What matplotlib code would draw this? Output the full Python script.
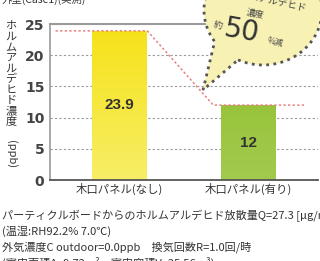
import numpy as np
import matplotlib
matplotlib.use("Agg")
import matplotlib.pyplot as plt
from matplotlib.patches import Polygon

plt.rcParams['font.family'] = ['Noto Sans CJK JP', 'DejaVu Sans']

# data
categories = ["木口パネル(なし)", "木口パネル(有り)"]
values = [23.9, 12]
bar_colors = ["#f7e21a", "#98c43c"]
bar_colors_bottom = ["#f6ee66", "#a2ca4e"]
y_ticks = [0, 5, 10, 15, 20, 25]
trend_x = [-0.49, 0.22, 0.73, 1.44]
trend_y = [values[0], values[0], values[1], values[1]]

ylabel_jp = "ホルムアルデヒド濃度"
notes = [
    "パーティクルボードからのホルムアルデヒド放散量Q=27.3 [μg/m²h]",
    "(温湿:RH92.2% 7.0℃)",
    "外気濃度C outdoor=0.0ppb　換気回数R=1.0回/時",
    "(室内面積A=9.72m²、室内容積V=25.56m³)",
]

fig = plt.figure(figsize=(3.2, 2.61), dpi=100)
fig.patch.set_facecolor("white")
ax = fig.add_axes([50 / 320, 1 - 180 / 261, 268 / 320, 156 / 261])

x = np.arange(len(categories))
bars = ax.bar(x, values, width=0.42, color=bar_colors, zorder=2)

# vertical gradient inside each bar
for b, ctop, cbot in zip(bars, bar_colors, bar_colors_bottom):
    grad = np.linspace(0, 1, 64).reshape(-1, 1)
    c1 = np.array(matplotlib.colors.to_rgb(cbot))
    c2 = np.array(matplotlib.colors.to_rgb(ctop))
    img = c1 + (c2 - c1) * grad[..., None]
    x0, y0 = b.get_x(), b.get_y()
    im = ax.imshow(img, extent=[x0, x0 + b.get_width(), y0, y0 + b.get_height()],
                   origin="lower", aspect="auto", zorder=2.5)
    im.set_clip_path(b)

for xi, v in zip(x, values):
    ax.text(xi, v * 0.5, f"{v:g}", ha="center", va="center",
            fontsize=11, fontweight="bold", color="#333333", zorder=4,
            family="Liberation Sans")

ax.plot(trend_x, trend_y, color="#e88080", linestyle=(0, (1.5, 1.5)), linewidth=1.1, zorder=3)

ax.set_xlim(-0.533, 1.54)
ax.set_ylim(0, 25)
ax.set_yticks(y_ticks)
ax.set_yticklabels([str(t) for t in y_ticks], fontsize=10, fontweight="bold",
                   color="#444444", family="DejaVu Sans")
ax.set_xticks(x)
ax.set_xticklabels(categories, fontsize=8.2, color="#333333")
ax.tick_params(length=0, pad=2)
ax.tick_params(axis="y", pad=4)
for t in y_ticks[1:-1]:
    ax.axhline(t, color="#999999", linestyle=(0, (2, 2)), linewidth=0.8, zorder=1)
ax.spines["right"].set_visible(False)
ax.spines["top"].set_color("#9a9a9a")
ax.spines["top"].set_linewidth(1.5)
ax.spines["left"].set_color("#9a9a9a")
ax.spines["left"].set_linewidth(1.2)
ax.spines["bottom"].set_color("#555555")
ax.spines["bottom"].set_linewidth(1.3)

# overlay in pixel coordinates for labels, bubble and notes
ov = fig.add_axes([0, 0, 1, 1], facecolor="none")
ov.set_xlim(0, 320)
ov.set_ylim(261, 0)
ov.axis("off")

# vertical y label
yy = 26
for ch in ylabel_jp:
    ov.text(11, yy, ch, ha="center", va="center", fontsize=8, color="#333333")
    yy += 10.6
ov.text(11, yy + 22, "(ppb)", ha="center", va="center", rotation=-90,
        fontsize=8, color="#333333")

# speech bubble
cx, cy, ra, rb = 263, 10, 59, 55
t = np.radians(np.linspace(115, -215, 200))
pts = np.column_stack([cx + ra * np.cos(t), cy + rb * np.sin(t)])
pts = np.vstack([pts, [203, 90]])
ov.add_patch(Polygon(pts, closed=True, facecolor="#f7f1b4", edgecolor="#555555",
                     linestyle=(0, (1, 1.6)), linewidth=2.0, zorder=5))
ov.text(268, 0, "ホルムアルデヒド", ha="center", va="center", fontsize=7,
        color="#444444", rotation=-12, zorder=6)
ov.text(255, 13, "濃度", ha="center", va="center", fontsize=6.5,
        color="#444444", rotation=-12, zorder=6)
ov.text(218, 25, "約", ha="center", va="center", fontsize=6.5,
        color="#444444", rotation=-12, zorder=6)
ov.text(242, 31, "50", ha="center", va="center", fontsize=20,
        color="#333333", rotation=-10, zorder=6, family="DejaVu Sans")
ov.text(275, 42, "%減", ha="center", va="center", fontsize=6,
        color="#444444", rotation=-12, zorder=6)

# cut-off heading
ov.text(2, -1, "外壁(Case1)(実測)", ha="left", va="center", fontsize=7.5,
        color="#333333")

# notes below
for i, line in enumerate(notes):
    ov.text(2, 215 + i * 16, line, ha="left", va="center", fontsize=8,
            color="#333333")

fig.savefig("out.png", dpi=100, facecolor="white")
